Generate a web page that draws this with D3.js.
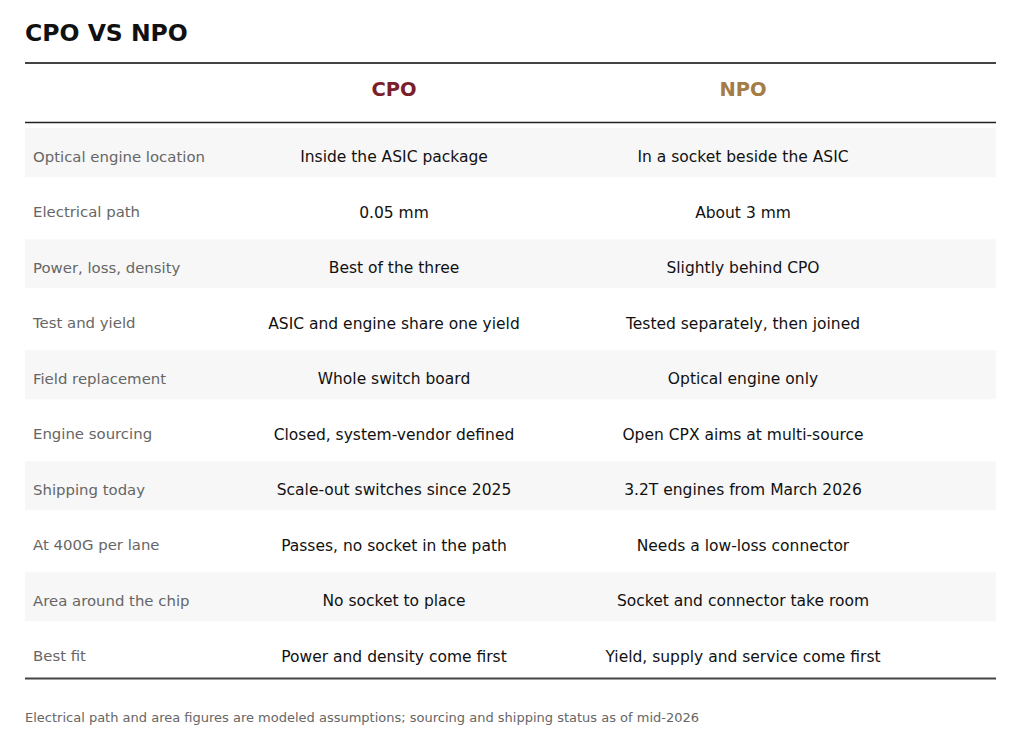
<!DOCTYPE html>
<html><head><meta charset="utf-8">
<script src="https://cdn.jsdelivr.net/npm/d3@7"></script>
<style>
html,body{margin:0;padding:0;background:#fff;}
svg{display:block;font-family:"DejaVu Sans",sans-serif;}
</style></head>
<body><svg id="chart" width="1024" height="741"></svg>
<script>
const title = "CPO VS NPO";
const columns = ["CPO", "NPO"];
const columnColors = ["#7b1e2c", "#a47c45"];
const rowLabels = ["Optical engine location","Electrical path","Power, loss, density","Test and yield","Field replacement","Engine sourcing","Shipping today","At 400G per lane","Area around the chip","Best fit"];
const cpoValues = ["Inside the ASIC package","0.05 mm","Best of the three","ASIC and engine share one yield","Whole switch board","Closed, system-vendor defined","Scale-out switches since 2025","Passes, no socket in the path","No socket to place","Power and density come first"];
const npoValues = ["In a socket beside the ASIC","About 3 mm","Slightly behind CPO","Tested separately, then joined","Optical engine only","Open CPX aims at multi-source","3.2T engines from March 2026","Needs a low-loss connector","Socket and connector take room","Yield, supply and service come first"];
const footnote = "Electrical path and area figures are modeled assumptions; sourcing and shipping status as of mid-2026";

const svg = d3.select("#chart");
const left = 25, right = 996;
const bodyTop = 125, bodyBottom = 680;

svg.append("text").attr("x", left).attr("y", 41).attr("font-size", 23.5).attr("font-weight", "bold").attr("fill", "#111").text(title);

const y = d3.scaleBand().domain(d3.range(rowLabels.length)).range([bodyTop, bodyBottom]).paddingInner(0.117).paddingOuter(0.0585);
const x = d3.scalePoint().domain(columns).range([394, 743]);

svg.append("line").attr("x1", left).attr("x2", right).attr("y1", 63).attr("y2", 63).attr("stroke", "#444").attr("stroke-width", 2.2);
svg.append("line").attr("x1", left).attr("x2", right).attr("y1", 122.5).attr("y2", 122.5).attr("stroke", "#222").attr("stroke-width", 1.5);

svg.selectAll("text.hdr").data(columns).enter().append("text").attr("class","hdr")
  .attr("x", d => x(d)).attr("y", 89.5).attr("dy", "0.35em").attr("text-anchor", "middle")
  .attr("font-size", 19.5).attr("font-weight", "bold").attr("fill", (d,i) => columnColors[i]).text(d => d);

const rows = svg.selectAll("g.row").data(rowLabels).enter().append("g").attr("class","row")
  .attr("transform", (d,i) => `translate(0,${y(i)})`);
rows.filter((d,i) => i % 2 === 0).append("rect")
  .attr("x", left).attr("width", right - left)
  .attr("y", 0).attr("height", y.bandwidth()).attr("fill", "#f7f7f7");
const mid = y.bandwidth() / 2 + 4;
rows.append("text").attr("x", 33).attr("y", mid).attr("dy", "0.35em").attr("font-size", 14.9).attr("fill", "#666").text(d => d);
rows.append("text").attr("x", x("CPO")).attr("y", mid).attr("dy", "0.35em").attr("text-anchor","middle").attr("font-size", 15.5).attr("fill", "#111").text((d,i) => cpoValues[i]);
rows.append("text").attr("x", x("NPO")).attr("y", mid).attr("dy", "0.35em").attr("text-anchor","middle").attr("font-size", 15.5).attr("fill", "#111").text((d,i) => npoValues[i]);

svg.append("line").attr("x1", left).attr("x2", right).attr("y1", 678.5).attr("y2", 678.5).attr("stroke", "#444").attr("stroke-width", 2);
svg.append("text").attr("x", left).attr("y", 717).attr("dy","0.35em").attr("font-size", 13).attr("fill", "#666").text(footnote);
</script></body></html>
